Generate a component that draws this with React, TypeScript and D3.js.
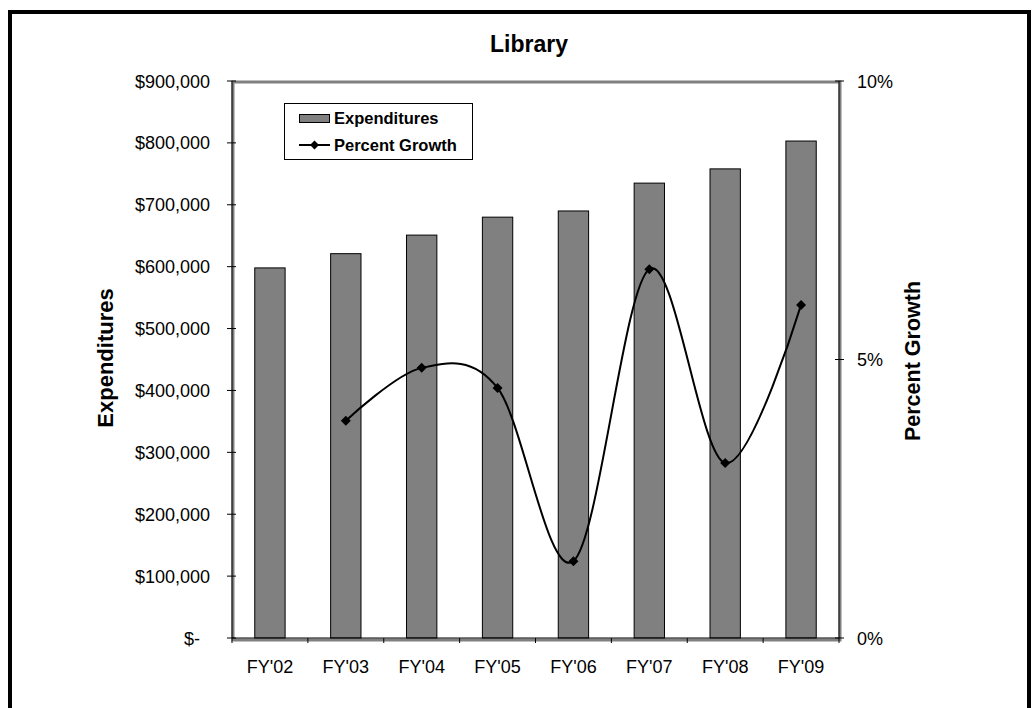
import React from 'react';
import { scaleBand, scaleLinear, line, curveCardinal } from 'd3';

const categories = ["FY'02", "FY'03", "FY'04", "FY'05", "FY'06", "FY'07", "FY'08", "FY'09"];
const expenditures = [598000, 621000, 651000, 680000, 690000, 735000, 758000, 803000];
// percent growth, first year has none
const growth = [null, 3.9, 4.85, 4.49, 1.38, 6.62, 3.14, 5.98];
const leftTicks = [0, 100000, 200000, 300000, 400000, 500000, 600000, 700000, 800000, 900000];
const rightTicks = [0, 5, 10];

const W = 1035;
const H = 708;
const plot = { left: 232, top: 81, right: 839, bottom: 638 };
const font = '"Liberation Sans", Arial, sans-serif';

const fmtMoney = (v: number) => (v === 0 ? '$-' : '$' + v.toLocaleString('en-US'));

export default function App() {
  const x = scaleBand<string>().domain(categories).range([plot.left, plot.right]).padding(0);
  const yL = scaleLinear().domain([0, 900000]).range([plot.bottom, plot.top]);
  const yR = scaleLinear().domain([0, 10]).range([plot.bottom, plot.top]);
  const bw = x.bandwidth() * 0.4;
  const cx = (c: string) => (x(c) as number) + x.bandwidth() / 2;

  const pts = categories
    .map((c, i) => ({ c, v: growth[i] }))
    .filter((d) => d.v !== null) as { c: string; v: number }[];
  const growthLine = line<{ c: string; v: number }>()
    .x((d) => cx(d.c))
    .y((d) => yR(d.v))
    .curve(curveCardinal.tension(0));

  const diamond = (px: number, py: number, r = 5) =>
    `M${px},${py - r}L${px + r},${py}L${px},${py + r}L${px - r},${py}Z`;

  return (
    <svg
      width={W}
      height={H}
      style={{ position: 'absolute', left: 0, top: 0, background: '#fff' }}
      fontFamily={font}
    >
      <rect x={0} y={0} width={W} height={H} fill="#fff" />
      {/* outer frame */}
      <path d={`M10,${H}V12H1029V${H}`} fill="none" stroke="#000" strokeWidth={4} />

      <text x={529} y={52} textAnchor="middle" fontSize={23} fontWeight="bold">
        Library
      </text>

      {/* plot area frame */}
      <rect
        x={plot.left + 1}
        y={plot.top + 1}
        width={plot.right - plot.left}
        height={plot.bottom - plot.top + 1}
        fill="#fff"
        stroke="#808080"
        strokeWidth={3}
      />

      {/* bars */}
      {categories.map((c, i) => (
        <rect
          key={c}
          x={cx(c) - bw / 2}
          y={yL(expenditures[i])}
          width={bw}
          height={plot.bottom - yL(expenditures[i])}
          fill="#808080"
          stroke="#000"
          strokeWidth={1}
        />
      ))}

      {/* axes */}
      <line x1={plot.left} x2={plot.left} y1={plot.top} y2={plot.bottom} stroke="#000" />
      <line x1={plot.right} x2={plot.right} y1={plot.top} y2={plot.bottom} stroke="#000" />
      <line x1={plot.left} x2={plot.right} y1={plot.bottom} y2={plot.bottom} stroke="#000" />

      {leftTicks.map((t) => (
        <g key={t}>
          <line x1={plot.left - 5} x2={plot.left + 4} y1={yL(t)} y2={yL(t)} stroke="#000" />
          <text
            x={t === 0 ? 200 : 210}
            y={yL(t) + 6.5}
            textAnchor="end"
            fontSize={18}
            fill="#000"
          >
            {fmtMoney(t)}
          </text>
        </g>
      ))}

      {rightTicks.map((t) => (
        <g key={t}>
          <line x1={plot.right - 4} x2={plot.right + 5} y1={yR(t)} y2={yR(t)} stroke="#000" />
          <text x={857} y={yR(t) + 6.5} fontSize={18} fill="#000">
            {t + '%'}
          </text>
        </g>
      ))}

      {categories.map((c, i) => (
        <line
          key={'t' + c}
          x1={x(c) as number}
          x2={x(c) as number}
          y1={plot.bottom}
          y2={plot.bottom + 5}
          stroke="#000"
        />
      ))}
      <line x1={plot.right} x2={plot.right} y1={plot.bottom} y2={plot.bottom + 5} stroke="#000" />

      {categories.map((c) => (
        <text key={'l' + c} x={cx(c)} y={673} textAnchor="middle" fontSize={18}>
          {c}
        </text>
      ))}

      {/* growth line */}
      <path d={growthLine(pts) || ''} fill="none" stroke="#000" strokeWidth={2} />
      {pts.map((d) => (
        <path key={'m' + d.c} d={diamond(cx(d.c), yR(d.v))} fill="#000" />
      ))}

      {/* axis titles */}
      <text
        transform="translate(113,358) rotate(-90)"
        textAnchor="middle"
        fontSize={22}
        fontWeight="bold"
      >
        Expenditures
      </text>
      <text
        transform="translate(920,361) rotate(-90)"
        textAnchor="middle"
        fontSize={21.5}
        fontWeight="bold"
      >
        Percent Growth
      </text>

      {/* legend */}
      <rect x={284.5} y={103.5} width={188} height={56} fill="#fff" stroke="#000" strokeWidth={1} />
      <rect x={299.5} y={114.5} width={30} height={8} fill="#808080" stroke="#000" strokeWidth={1} />
      <text x={334} y={124} fontSize={16.5} fontWeight="bold">
        Expenditures
      </text>
      <line x1={299} x2={330} y1={145} y2={145} stroke="#000" strokeWidth={2} />
      <path d={diamond(314.5, 145, 4.5)} fill="#000" />
      <text x={334} y={151} fontSize={16.5} fontWeight="bold">
        Percent Growth
      </text>
    </svg>
  );
}
